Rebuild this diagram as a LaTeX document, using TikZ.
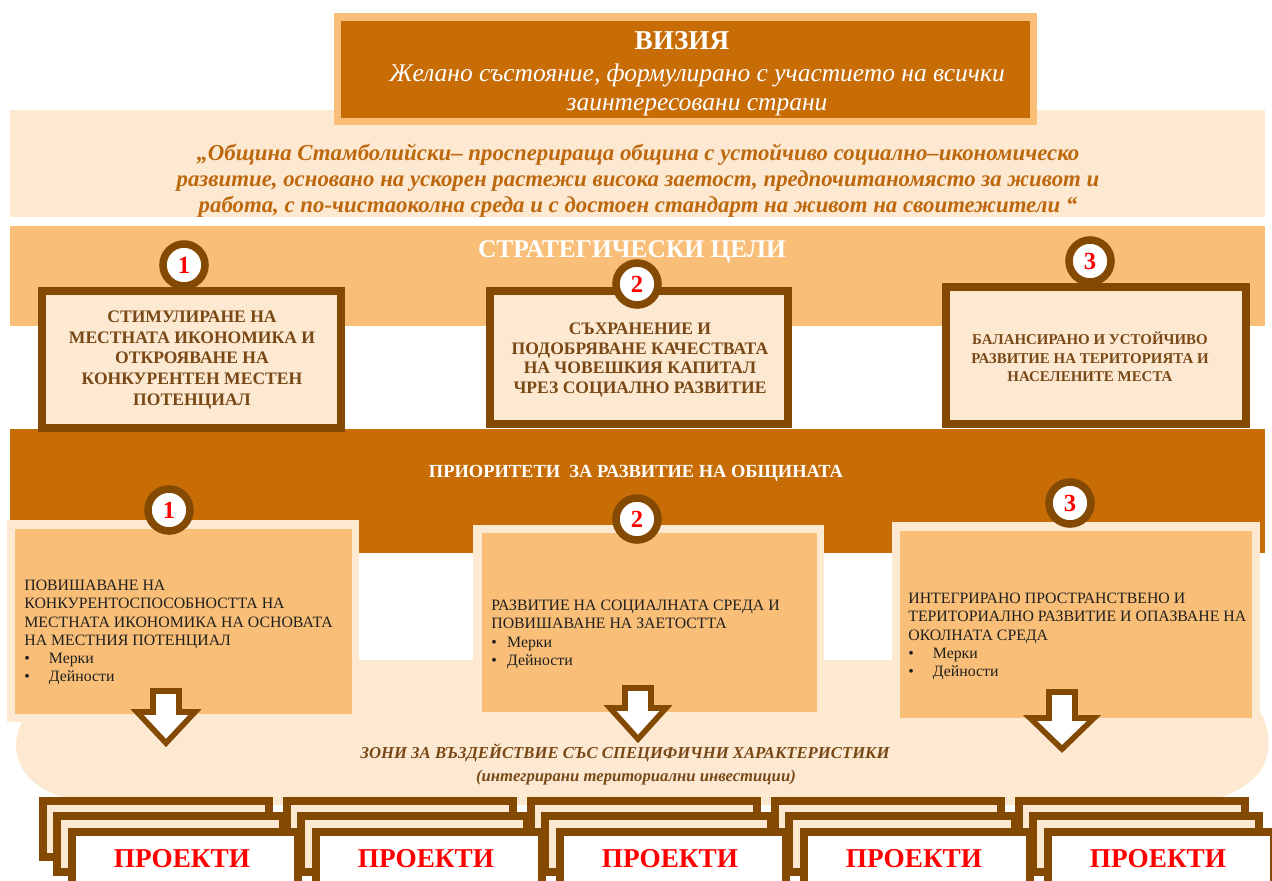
\documentclass[tikz,border=0pt]{standalone}
\usepackage{fontspec}
\setmainfont{Liberation Serif}
\usepackage{xcolor}
\definecolor{ochre}{RGB}{200,109,6}
\definecolor{sand}{RGB}{249,191,120}
\definecolor{cream}{RGB}{253,233,210}
\definecolor{rust}{RGB}{132,74,4}
\definecolor{quotebrown}{RGB}{190,104,14}
\definecolor{goalbrown}{RGB}{120,72,22}
\usepackage{tikz}
\usetikzlibrary{positioning}
\newcommand{\bul}[2][14pt]{\makebox[#1][l]{\textbullet}#2}
\newcommand{\downblock}[4]{%
	\draw[downarrow] (#1-13,#2) -- (#1+13,#2) -- (#1+13,#3-31) -- (#1+#4,#3-31) -- (#1,#3) -- (#1-#4,#3-31) -- (#1-13,#3-31) -- cycle;}

\tikzset{
	goalbox/.style={draw=rust, line width=4.5pt, fill=cream},
	goaltext/.style={text=goalbrown, align=center, inner sep=0pt},
	numring/.style={circle, draw=rust, line width=4.3pt, fill=white, minimum size=0.84cm, inner sep=0pt, text=red, font=\bfseries\fontsize{14}{14}\selectfont},
	priotext/.style={anchor=north west, inner sep=0pt, align=left, text=black!88, font=\fontsize{9}{10.3}\selectfont},
	downarrow/.style={draw=rust, fill=white, line width=3.2pt, line join=miter},
	projbox/.style={draw=rust, line width=4.5pt, fill=cream},
}

\begin{document}
\begin{tikzpicture}[x=0.02cm,y=-0.02cm]
	\useasboundingbox (0,0) rectangle (1272,880);
	\clip (0,0) rectangle (1272,880);
	
	% draw vision
	\fill[cream] (10,110) rectangle (1265,217);
	\fill[sand] (334,13) rectangle (1037,125);
	\fill[ochre] (341,21) rectangle (1030,118);
	\node[text=white, font=\bfseries\fontsize{15.5}{16}\selectfont] (vision) at (682,41) {ВИЗИЯ};
	\node[text=white, align=center, font=\itshape\fontsize{14.5}{16.8}\selectfont] (visiondef) at (697,90) {Желано състояние, формулирано с участието на всички\\заинтересовани страни};
	\node[text=quotebrown, align=center, font=\bfseries\itshape\fontsize{13}{14.7}\selectfont] (quote) at (638,181) {„Община Стамболийски– просперираща община с устойчиво социално–икономическо\\развитие, основано на ускорен растежи висока заетост, предпочитаномясто за живот и\\работа, с по-чистаоколна среда и с достоен стандарт на живот на своитежители “};
	
	% draw bands
	\fill[sand] (10,226) rectangle (1265,326);
	\fill[ochre] (10,429) rectangle (1265,553);
	\node[text=white, font=\bfseries\fontsize{14.5}{15}\selectfont] (goaltitle) at (632,252) {СТРАТЕГИЧЕСКИ ЦЕЛИ};
	\node[text=white, font=\bfseries\fontsize{10.5}{11}\selectfont] (priotitle) at (636,473) {ПРИОРИТЕТИ\ \ ЗА РАЗВИТИЕ НА ОБЩИНАТА};
	
	% draw goals
	\draw[goalbox] (42,291) rectangle (341,428);
	\draw[goalbox] (490,291) rectangle (788,424);
	\draw[goalbox] (946,287) rectangle (1246,424);
	\node[goaltext, font=\bfseries\fontsize{10}{11.7}\selectfont] (goalI) at (192,360) {СТИМУЛИРАНЕ НА\\МЕСТНАТА ИКОНОМИКА И\\ОТКРОЯВАНЕ НА\\КОНКУРЕНТЕН МЕСТЕН\\ПОТЕНЦИАЛ};
	\node[goaltext, font=\bfseries\fontsize{10}{11.2}\selectfont] (goalII) at (640,360) {СЪХРАНЕНИЕ И\\ПОДОБРЯВАНЕ КАЧЕСТВАТА\\НА ЧОВЕШКИЯ КАПИТАЛ\\ЧРЕЗ СОЦИАЛНО РАЗВИТИЕ};
	\node[goaltext, font=\bfseries\fontsize{8.5}{10.6}\selectfont] (goalIII) at (1090,357) {БАЛАНСИРАНО И УСТОЙЧИВО\\РАЗВИТИЕ НА ТЕРИТОРИЯТА И\\НАСЕЛЕНИТЕ МЕСТА};
	\node[numring] (ringI) at (184,265) {1};
	\node[numring] (ringII) at (637,284) {2};
	\node[numring] (ringIII) at (1090,261) {3};
	
	% draw zone
	\fill[cream] (110,660) -- (1170,660) .. controls (1270,662) and (1330,800) .. (1170,805) -- (110,805) .. controls (-25,800) and (-5,690) .. (110,660);
	
	% draw priorities
	\fill[cream] (7,520) rectangle (359,722);
	\fill[sand] (15,529) rectangle (352,714);
	\fill[cream] (473,525) rectangle (824,719);
	\fill[sand] (482,533) rectangle (817,712);
	\fill[cream] (892,522) rectangle (1260,724);
	\fill[sand] (900,531) rectangle (1252,718);
	\node[priotext] (prioI) at (24,580) {ПОВИШАВАНЕ НА\\КОНКУРЕНТОСПОСОБНОСТТА НА\\МЕСТНАТА ИКОНОМИКА НА ОСНОВАТА\\НА МЕСТНИЯ ПОТЕНЦИАЛ\\\bul{Мерки}\\\bul{Дейности}};
	\node[priotext] (prioII) at (491,600) {РАЗВИТИЕ НА СОЦИАЛНАТА СРЕДА И\\ПОВИШАВАНЕ НА ЗАЕТОСТТА\\\bul[9pt]{Мерки}\\\bul[9pt]{Дейности}};
	\node[priotext] (prioIII) at (908,593) {ИНТЕГРИРАНО ПРОСТРАНСТВЕНО И\\ТЕРИТОРИАЛНО РАЗВИТИЕ И ОПАЗВАНЕ НА\\ОКОЛНАТА СРЕДА\\\bul{Мерки}\\\bul{Дейности}};
	\node[numring] (pringI) at (169,510) {1};
	\node[numring] (pringII) at (637,519) {2};
	\node[numring] (pringIII) at (1070,503) {3};
	
	%%%arrows
	\downblock{166}{691}{743}{29}
	\downblock{638}{688}{739}{28}
	\downblock{1062}{692}{749}{32}
	
	\node[text=goalbrown, font=\bfseries\itshape\fontsize{9.5}{10}\selectfont] (zone) at (625,753) {ЗОНИ ЗА ВЪЗДЕЙСТВИЕ СЪС СПЕЦИФИЧНИ ХАРАКТЕРИСТИКИ};
	\node[text=goalbrown, font=\bfseries\itshape\fontsize{9.5}{10}\selectfont] (zonesub) at (636,777) {(интегрирани териториални инвестиции)};
	
	%%%projects
	\foreach \i in {0,...,4}
	\draw[projbox] (43+244*\i,801) rectangle ++(226,56);
	\foreach \i in {0,...,4}
	\draw[projbox] (57+244*\i,816) rectangle ++(226,56);
	\foreach \i in {0,...,4}
	\draw[projbox, fill=white] (72+244*\i,832) rectangle ++(226,70);
	\foreach \i in {0,...,4}
	\node[text=red, font=\bfseries\fontsize{15.5}{16}\selectfont] (proj\i) at (182+244*\i,859) {ПРОЕКТИ};
	
\end{tikzpicture}
\end{document}
